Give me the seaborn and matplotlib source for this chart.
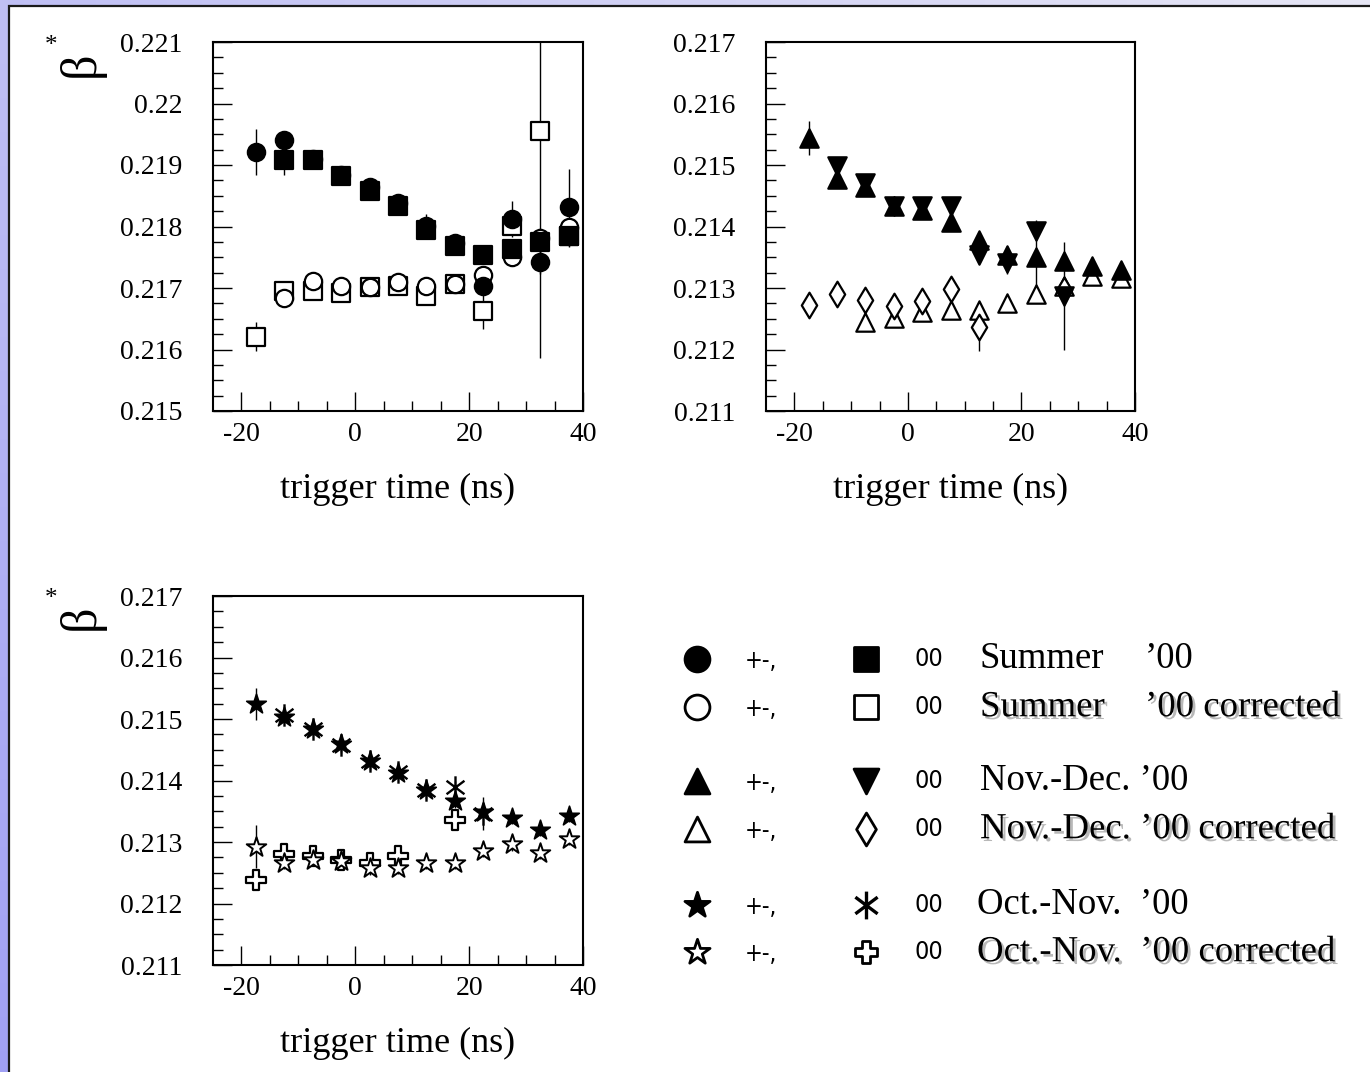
import numpy as np
import pandas as pd
import matplotlib
matplotlib.use("Agg")
import matplotlib.pyplot as plt
import seaborn as sns
from matplotlib.path import Path
from matplotlib.patches import Rectangle
from matplotlib import patheffects as pe
from matplotlib.ticker import FixedLocator, FuncFormatter

nan = np.nan

# trigger-time bin centres (ns)
trigger_time = [-17.5, -12.5, -7.5, -2.5, 2.5, 7.5, 12.5, 17.5, 22.5, 27.5, 32.5, 37.5]

# ---- Summer '00 ----
summer_pm          = [0.21921, 0.21940, 0.21910, 0.21884, 0.21865, 0.21839, 0.21801, 0.21773, 0.21703, 0.21812, 0.21742, 0.21831]
summer_pm_err      = [0.00038, 0.00010, 0.00006, 0.00006, 0.00006, 0.00006, 0.00020, 0.00008, 0.00012, 0.00029, 0.00020, 0.00062]
summer_00          = [nan, 0.21908, 0.21908, 0.21882, 0.21857, 0.21833, 0.21795, 0.21768, 0.21753, 0.21763, 0.21774, 0.21785]
summer_00_err      = [nan, 0.00025, 0.00006, 0.00006, 0.00006, 0.00006, 0.00012, 0.00008, 0.00010, 0.00015, 0.00020, 0.00018]
summer_pm_corr     = [nan, 0.21683, 0.21711, 0.21703, 0.21701, 0.21709, 0.21704, 0.21707, 0.21721, 0.21750, 0.21782, 0.21799]
summer_pm_corr_err = [nan, 0.00008, 0.00006, 0.00006, 0.00006, 0.00006, 0.00006, 0.00006, 0.00008, 0.00010, 0.00015, 0.00015]
summer_00_corr     = [0.21621, 0.21695, 0.21695, 0.21692, 0.21701, 0.21703, 0.21687, 0.21707, 0.21663, 0.21801, 0.21955, 0.21785]
summer_00_corr_err = [0.00023, 0.00008, 0.00006, 0.00006, 0.00006, 0.00006, 0.00008, 0.00006, 0.00030, 0.00012, 0.00369, 0.00015]

# ---- Nov.-Dec. '00 ----
novdec_pm          = [0.21544, 0.21478, 0.21465, 0.21434, 0.21427, 0.21407, 0.21378, 0.21354, 0.21350, 0.21344, 0.21335, 0.21329]
novdec_pm_err      = [0.00027, 0.00010, 0.00010, 0.00010, 0.00010, 0.00010, 0.00012, 0.00015, 0.00060, 0.00012, 0.00010, 0.00010]
novdec_00          = [nan, 0.21499, 0.21470, 0.21434, 0.21433, 0.21434, 0.21353, 0.21340, 0.21393, 0.21287, nan, nan]
novdec_00_err      = [nan, 0.00010, 0.00010, 0.00015, 0.00010, 0.00010, 0.00010, 0.00018, 0.00015, 0.00087, nan, nan]
novdec_pm_corr     = [nan, nan, 0.21245, 0.21252, 0.21261, 0.21265, 0.21265, 0.21276, 0.21290, 0.21304, 0.21320, 0.21317]
novdec_pm_corr_err = [nan, nan, 0.00010, 0.00010, 0.00010, 0.00010, 0.00010, 0.00010, 0.00010, 0.00010, 0.00010, 0.00010]
novdec_00_corr     = [0.21273, 0.21290, 0.21280, 0.21271, 0.21279, 0.21299, 0.21237, nan, nan, 0.21296, nan, nan]
novdec_00_corr_err = [0.00010, 0.00010, 0.00010, 0.00010, 0.00010, 0.00010, 0.00040, nan, nan, 0.00010, nan, nan]

# ---- Oct.-Nov. '00 ----
octnov_pm          = [0.21525, 0.21504, 0.21484, 0.21459, 0.21431, 0.21412, 0.21385, 0.21366, 0.21349, 0.21339, 0.21320, 0.21342]
octnov_pm_err      = [0.00026, 0.00010, 0.00010, 0.00015, 0.00010, 0.00010, 0.00010, 0.00010, 0.00010, 0.00010, 0.00010, 0.00010]
octnov_00          = [nan, 0.21506, 0.21484, 0.21458, 0.21432, 0.21414, 0.21385, 0.21390, 0.21346, nan, nan, nan]
octnov_00_err      = [nan, 0.00010, 0.00010, 0.00010, 0.00015, 0.00010, 0.00015, 0.00010, 0.00027, nan, nan, nan]
octnov_pm_corr     = [0.21292, 0.21266, 0.21271, 0.21269, 0.21257, 0.21258, 0.21266, 0.21266, 0.21285, 0.21296, 0.21282, 0.21305]
octnov_pm_corr_err = [0.00035, 0.00010, 0.00010, 0.00010, 0.00010, 0.00010, 0.00010, 0.00010, 0.00010, 0.00010, 0.00010, 0.00010]
octnov_00_corr     = [0.21239, 0.21280, 0.21277, 0.21271, 0.21266, 0.21277, nan, 0.21335, nan, nan, nan, nan]
octnov_00_corr_err = [0.00010, 0.00010, 0.00010, 0.00010, 0.00010, 0.00010, nan, 0.00010, nan, nan, nan, nan]

x_ticks = [-20, 0, 20, 40]
x_minor = [-15, -10, -5, 5, 10, 15, 25, 30, 35]
y_ticks_summer = [0.215, 0.216, 0.217, 0.218, 0.219, 0.220, 0.221]
y_ticks_other = [0.211, 0.212, 0.213, 0.214, 0.215, 0.216, 0.217]

legend_rows = [
    ("Summer", "\u201900", False),
    ("Summer", "\u201900 corrected", True),
    ("Nov.-Dec. \u201900", "", False),
    ("Nov.-Dec. \u201900 corrected", "", True),
    ("Oct.-Nov.  \u201900", "", False),
    ("Oct.-Nov.  \u201900 corrected", "", True),
]

sns.set_theme(style="white")
plt.rcParams['font.family'] = ['Liberation Serif', 'DejaVu Serif']
plt.rcParams['axes.unicode_minus'] = False

# six-armed asterisk marker
ASTERISK = Path(
    [(0, -1), (0, 1), (-0.8, -0.6), (0.8, 0.6), (-0.8, 0.6), (0.8, -0.6)],
    [Path.MOVETO, Path.LINETO, Path.MOVETO, Path.LINETO, Path.MOVETO, Path.LINETO],
)

W, H = 1370, 1072
fig = plt.figure(figsize=(W / 100, H / 100), dpi=100)

# ---- slide background and white sheet ----
bg = fig.add_axes([0, 0, 1, 1], zorder=-5)
bg.set_xlim(0, W)
bg.set_ylim(H, 0)
bg.axis("off")
gx, gy = np.meshgrid(np.linspace(0, 1, 60), np.linspace(0, 1, 60))
tgrad = np.clip(0.55 * gx + 0.45 * (1 - gy), 0, 1)
c_dark = np.array([0.63, 0.63, 0.96])
c_light = np.array([0.90, 0.90, 0.96])
img = c_dark[None, None, :] + (c_light - c_dark)[None, None, :] * tgrad[..., None]
bg.imshow(img, extent=(0, W, H, 0), aspect="auto", interpolation="bilinear", zorder=0)
bg.add_patch(Rectangle((9, 5.5), W + 20, H + 20, facecolor="white",
                       edgecolor="#1a1a1a", linewidth=1.6, zorder=1))


def px_axes(left, top, right, bottom):
    return fig.add_axes([left / W, 1 - bottom / H, (right - left) / W, (bottom - top) / H])


def style_axis(ax, yticks):
    ax.set_xlim(-25, 40)
    ax.set_ylim(yticks[0], yticks[-1])
    ax.xaxis.set_major_locator(FixedLocator(x_ticks))
    ax.xaxis.set_minor_locator(FixedLocator(x_minor))
    ax.xaxis.set_major_formatter(FuncFormatter(lambda v, p: f"{int(round(v))}"))
    ax.yaxis.set_major_locator(FixedLocator(yticks))
    minors = [yticks[0] + k * 0.00025 for k in range(1, 24) if k % 4 != 0]
    ax.yaxis.set_minor_locator(FixedLocator(minors))
    ax.yaxis.set_major_formatter(FuncFormatter(lambda v, p: f"{round(v, 3):g}"))
    ax.tick_params(axis="both", which="both", direction="in", color="black",
                   top=False, right=False, left=True, bottom=True, labelsize=20,
                   labelcolor="black")
    ax.tick_params(axis="both", which="major", length=14, width=1.0)
    ax.tick_params(axis="both", which="minor", length=7.5, width=1.0)
    ax.tick_params(axis="y", which="major", pad=22)
    ax.tick_params(axis="x", which="major", pad=8)
    for s in ax.spines.values():
        s.set_color("black")
        s.set_linewidth(1.5)
        s.set_visible(True)
    ax.set_facecolor("white")
    ax.grid(False)
    ax.set_xlabel("trigger time (ns)", fontsize=26, color="black")
    ax.xaxis.set_label_coords(0.5, -0.168)
    ax.xaxis.label.set_verticalalignment("top")
    ax.set_ylabel("")


def draw_series(ax, values, errs, marker, face, size, lw=1.6, z=3):
    df = pd.DataFrame({"t": trigger_time, "v": values, "e": errs}).dropna(subset=["v"])
    ax.errorbar(df["t"], df["v"], yerr=df["e"].fillna(0), fmt="none",
                ecolor="black", elinewidth=1.0, capsize=0, zorder=2)
    sns.scatterplot(data=df, x="t", y="v", ax=ax, marker=marker, s=size,
                    color=face, edgecolor="black", linewidth=lw, zorder=z,
                    legend=False)


# ---- Summer '00 ----
ax1 = px_axes(213, 42, 583, 411)
draw_series(ax1, summer_00_corr, summer_00_corr_err, "s", "white", 165, z=3)
draw_series(ax1, summer_pm_corr, summer_pm_corr_err, "o", "white", 155, z=4)
draw_series(ax1, summer_pm, summer_pm_err, "o", "black", 155, z=5)
draw_series(ax1, summer_00, summer_00_err, "s", "black", 165, z=6)
style_axis(ax1, y_ticks_summer)

# ---- Nov.-Dec. '00 ----
ax2 = px_axes(766, 42, 1135, 411)
draw_series(ax2, novdec_pm_corr, novdec_pm_corr_err, "^", "white", 175, z=3)
draw_series(ax2, novdec_00_corr, novdec_00_corr_err, "d", "white", 170, z=4)
draw_series(ax2, novdec_pm, novdec_pm_err, "^", "black", 175, z=5)
draw_series(ax2, novdec_00, novdec_00_err, "v", "black", 175, z=6)
style_axis(ax2, y_ticks_other)

# ---- Oct.-Nov. '00 ----
ax3 = px_axes(213, 596, 583, 965)
draw_series(ax3, octnov_00_corr, octnov_00_corr_err, "P", "white", 200, z=3)
draw_series(ax3, octnov_pm_corr, octnov_pm_corr_err, "*", "white", 220, lw=1.4, z=4)
draw_series(ax3, octnov_pm, octnov_pm_err, "*", "black", 220, lw=1.2, z=5)
draw_series(ax3, octnov_00, octnov_00_err, ASTERISK, "black", 260, lw=1.7, z=6)
style_axis(ax3, y_ticks_other)

# beta* axis titles
for ytop in (64, 617):
    fig.text(81 / W, 1 - ytop / H, "\u03b2", rotation=90, fontsize=36,
             ha="center", va="center", color="black")
    fig.text(51 / W, 1 - (ytop - 18) / H, "*", fontsize=18,
             ha="center", va="center", color="black")

# ---- key ----
row_y = [659, 707, 781, 829, 905, 952]
key_left = [("o", "black"), ("o", "white"), ("^", "black"), ("^", "white"), ("*", "black"), ("*", "white")]
key_right = [("s", "black"), ("s", "white"), ("v", "black"), ("d", "white"), (ASTERISK, "black"), ("P", "white")]
key_sizes_left = [320, 320, 320, 320, 360, 360]
key_sizes_right = [300, 300, 320, 280, 400, 260]
key_lw_right = [2.0, 2.0, 2.0, 2.0, 2.4, 2.0]
narrow = ["Liberation Sans Narrow", "DejaVu Sans"]
shadow = [pe.SimplePatchShadow(offset=(2, -2), shadow_rgbFace="#9a9a9a", alpha=0.7), pe.Normal()]

for i, y in enumerate(row_y):
    m1, f1 = key_left[i]
    m2, f2 = key_right[i]
    bg.scatter([697], [y], marker=m1, s=key_sizes_left[i], c=f1, edgecolors="black",
               linewidths=2.0, zorder=5)
    bg.scatter([866], [y], marker=m2, s=key_sizes_right[i], c=f2, edgecolors="black",
               linewidths=key_lw_right[i], zorder=5)
    bg.text(745, y + 2, "+-,", fontsize=17, family=narrow, stretch="condensed",
            ha="left", va="center", color="black", zorder=5)
    bg.text(915, y, "00", fontsize=18, family=narrow, stretch="condensed",
            ha="left", va="center", color="black", zorder=5)
    name, tail, shaded = legend_rows[i]
    effects = shadow if shaded else None
    xs = 977 if name.startswith("Oct") else 980
    bg.text(xs, y, name, fontsize=26.5, ha="left", va="center", color="black",
            zorder=5, path_effects=effects)
    if tail:
        bg.text(1145, y, tail, fontsize=26.5, ha="left", va="center", color="black",
                zorder=5, path_effects=effects)

fig.savefig("out.png", dpi=100)
